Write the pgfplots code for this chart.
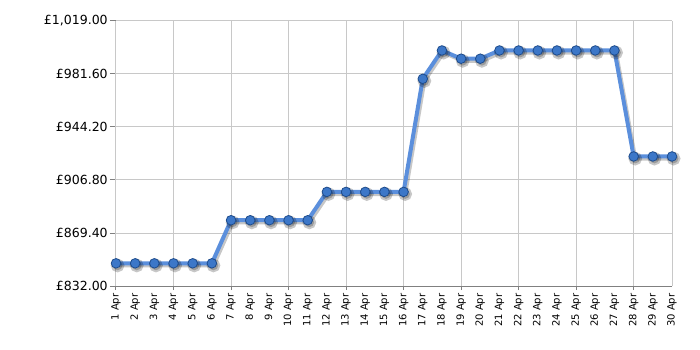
\documentclass[border=0pt]{standalone}
\usepackage{pgfplots}
\pgfplotsset{compat=1.18}
\usepackage{pgfplotstable}
\usepackage{fontspec}
\setmainfont{DejaVu Sans}
\definecolor{linec}{HTML}{5B8FDC}
\definecolor{markf}{HTML}{3C77C8}
\definecolor{marke}{HTML}{1E4C8C}
\definecolor{gridc}{HTML}{C8C8C8}
\definecolor{axisc}{HTML}{808080}
\pgfplotstableread{
x y
1 848
2 848
3 848
4 848
5 848
6 848
7 878.4
8 878.4
9 878.4
10 878.4
11 878.4
12 898.4
13 898.4
14 898.4
15 898.4
16 898.4
17 978.2
18 998.2
19 992.4
20 992.4
21 998.2
22 998.2
23 998.2
24 998.2
25 998.2
26 998.2
27 998.2
28 923.4
29 923.4
30 923.4
}\prices
\begin{document}
\begin{tikzpicture}
\useasboundingbox (-87pt,-48pt) rectangle (438pt,214.5pt);
\begin{axis}[
  at={(0,0)}, anchor=south west, scale only axis,
  width=417pt, height=198.75pt,
  xmin=1, xmax=30, ymin=832, ymax=1019,
  axis x line*=bottom, axis y line*=left,
  axis line style={draw=axisc, line width=0.75pt, -},
  clip=false,
  tick align=outside,
  major tick length=4.5pt,
  tick style={draw=axisc, line width=0.75pt},
  /pgf/number format/assume math mode=true,
  ytick={832,869.4,906.8,944.2,981.6,1019},
  ymajorgrids=true,
  grid style={draw=gridc, line width=0.75pt},
  yticklabel={£\pgfmathprintnumber[fixed,fixed zerofill,precision=2,1000 sep={,}]{\tick}},
  y tick label style={font=\fontsize{9.4}{11}\selectfont, inner sep=1.5pt},
  xtick={1,...,30},
  xticklabels={1 Apr,2 Apr,3 Apr,4 Apr,5 Apr,6 Apr,7 Apr,8 Apr,9 Apr,10 Apr,11 Apr,12 Apr,13 Apr,14 Apr,15 Apr,16 Apr,17 Apr,18 Apr,19 Apr,20 Apr,21 Apr,22 Apr,23 Apr,24 Apr,25 Apr,26 Apr,27 Apr,28 Apr,29 Apr,30 Apr},
  x tick label style={rotate=90, anchor=east, font=\fontsize{7.5}{9}\selectfont, inner sep=1pt},
  xtick style={draw=none},
  xmajorgrids=false,
  extra x ticks={1,4,7,10,13,16,19,22,25,28},
  extra x tick labels={},
  extra x tick style={xmajorgrids=true, major tick length=3pt, xtick style={draw=axisc, line width=0.75pt}},
]
\draw[gridc, line width=0.75pt] (rel axis cs:1,0) -- (rel axis cs:1,1);
\addplot[draw=black, draw opacity=0.22, line width=3pt, shift={(1.2pt,-1.6pt)},
  mark=*, mark size=3.6pt, mark options={fill=black, fill opacity=0.22, draw=none}] table {\prices};
\addplot[linec, line width=3pt, mark=*, mark size=3.6pt,
  mark options={fill=markf, draw=marke, line width=0.6pt}] table {\prices};
\end{axis}
\end{tikzpicture}
\end{document}
